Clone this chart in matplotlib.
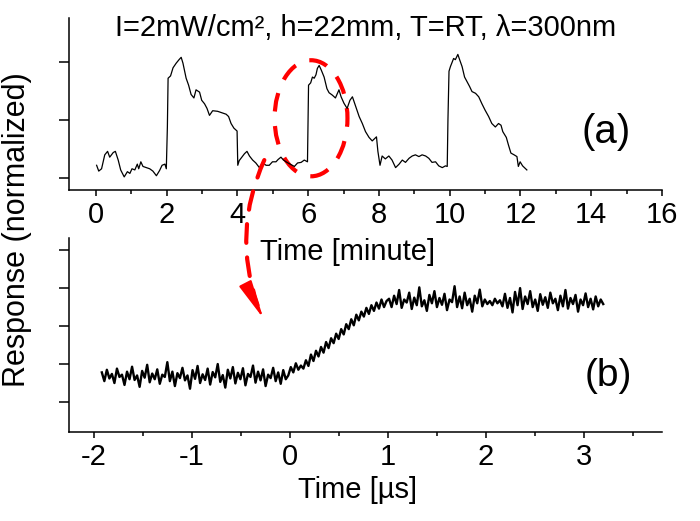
import numpy as np
import matplotlib
matplotlib.use('Agg')
from matplotlib import pyplot as plt
from matplotlib.patches import Ellipse, ConnectionPatch

plt.rcParams['font.family'] = ['Liberation Sans', 'DejaVu Sans']
plt.rcParams['axes.unicode_minus'] = False

# (a) slow response, time in minutes
t_a = [0.02, 0.08, 0.16, 0.25, 0.33, 0.39, 0.49, 0.55, 0.63, 0.70, 0.80, 0.89, 0.96, 1.02,
       1.10, 1.17, 1.21, 1.27, 1.33, 1.43, 1.52, 1.61, 1.71, 1.80, 1.87, 1.95, 1.99, 2.02,
       2.04, 2.11, 2.18, 2.27, 2.35, 2.41, 2.46, 2.55, 2.62, 2.69, 2.77, 2.83, 2.93, 2.99,
       3.07, 3.14, 3.21, 3.30, 3.44, 3.59, 3.68, 3.75, 3.82, 3.90, 3.99, 4.01, 4.05, 4.10,
       4.20, 4.27, 4.34, 4.43, 4.52, 4.62, 4.71, 4.81, 4.90, 4.99, 5.09, 5.15, 5.23, 5.30,
       5.40, 5.49, 5.61, 5.70, 5.80, 5.89, 5.98, 6.01, 6.07, 6.12, 6.17, 6.22, 6.26, 6.31,
       6.37, 6.45, 6.53, 6.59, 6.68, 6.77, 6.87, 6.93, 7.01, 7.10, 7.18, 7.25, 7.34, 7.44,
       7.53, 7.62, 7.72, 7.81, 7.93, 7.97, 8.03, 8.09, 8.18, 8.28, 8.37, 8.47, 8.57, 8.66,
       8.75, 8.85, 8.94, 9.03, 9.13, 9.22, 9.32, 9.41, 9.50, 9.60, 9.69, 9.79, 9.88, 9.93,
       9.95, 9.98, 10.02, 10.07, 10.11, 10.16, 10.23, 10.28, 10.35, 10.42, 10.49, 10.56,
       10.63, 10.73, 10.82, 10.91, 11.00, 11.10, 11.19, 11.29, 11.38, 11.45, 11.50, 11.60,
       11.66, 11.73, 11.82, 11.90, 11.94, 11.99, 12.06, 12.18]
resp_a = [0.11, 0.06, 0.08, 0.20, 0.23, 0.18, 0.22, 0.23, 0.155, 0.07, 0.01, 0.055, 0.04, 0.08,
          0.07, 0.12, 0.08, 0.14, 0.10, 0.09, 0.08, 0.06, 0.02, 0.065, 0.11, 0.12, 0.08, 0.44,
          0.86, 0.88, 0.95, 0.99, 1.02, 1.04, 0.99, 0.86, 0.80, 0.72, 0.69, 0.76, 0.74, 0.67,
          0.64, 0.60, 0.54, 0.58, 0.575, 0.56, 0.55, 0.53, 0.47, 0.43, 0.405, 0.11, 0.15, 0.17,
          0.21, 0.23, 0.19, 0.155, 0.13, 0.09, 0.13, 0.11, 0.11, 0.14, 0.14, 0.16, 0.18, 0.155,
          0.135, 0.12, 0.10, 0.13, 0.135, 0.155, 0.14, 0.80, 0.82, 0.87, 0.86, 0.89, 0.945, 0.97,
          0.93, 0.87, 0.77, 0.735, 0.715, 0.69, 0.76, 0.70, 0.645, 0.60, 0.67, 0.70, 0.62, 0.53,
          0.47, 0.40, 0.35, 0.32, 0.355, 0.23, 0.11, 0.19, 0.165, 0.19, 0.155, 0.09, 0.12, 0.155,
          0.135, 0.17, 0.19, 0.20, 0.185, 0.20, 0.19, 0.17, 0.135, 0.14, 0.105, 0.09, 0.105, 0.10,
          0.50, 0.92, 0.96, 1.00, 1.03, 1.02, 1.065, 1.02, 0.96, 0.87, 0.83, 0.79,
          0.745, 0.73, 0.70, 0.64, 0.585, 0.53, 0.47, 0.44, 0.47, 0.455, 0.40, 0.35,
          0.285, 0.215, 0.20, 0.185, 0.10, 0.14, 0.105, 0.07]

# (b) fast response, time in microseconds (evenly sampled)
t_b_start, t_b_end = -1.92, 3.2
resp_b = [
    # baseline
    0.78, 0.55, 0.85, 0.62, 0.74, 0.50, 0.88, 0.66, 0.72, 0.45, 0.80, 0.60, 0.93, 0.58, 0.70,
    0.40, 0.82, 0.64, 0.98, 0.52, 0.75, 0.60, 0.86, 0.48, 0.72, 0.66, 1.05, 0.55, 0.80, 0.42,
    0.76, 0.63, 0.90, 0.57, 0.70, 0.35, 0.84, 0.61, 0.95, 0.50, 0.73, 0.58, 0.88, 0.46, 0.79,
    0.65, 1.00, 0.53, 0.71, 0.38, 0.85, 0.62, 0.92, 0.49, 0.77, 0.60, 0.89, 0.44, 0.74, 0.66,
    0.96, 0.51, 0.80, 0.57, 0.86, 0.42, 0.72, 0.63, 0.90, 0.55, 0.78, 0.48, 0.84, 0.60, 0.70,
    # rise
    0.92, 0.78, 1.02, 0.85, 0.96, 0.88, 1.10, 0.95, 1.25, 1.08, 1.35, 1.20, 1.45, 1.30, 1.58,
    1.42, 1.68, 1.55, 1.80, 1.66, 1.92, 1.78, 2.05, 1.92, 2.18, 2.02, 2.30, 2.15, 2.38, 2.25,
    2.48, 2.32, 2.55, 2.40, 2.62, 2.46, 2.70, 2.50, 2.66,
    # plateau
    2.72, 2.50, 2.80, 2.58, 2.95, 2.48, 2.70, 2.62, 2.88, 2.45, 2.75, 2.55, 3.02, 2.52, 2.68,
    2.40, 2.82, 2.60, 2.92, 2.50, 2.74, 2.56, 2.85, 2.42, 2.70, 2.63, 3.05, 2.50, 2.78, 2.47,
    2.88, 2.55, 2.72, 2.38, 2.80, 2.60, 2.96, 2.52, 2.70, 2.58, 2.66, 2.55, 2.72, 2.60, 2.68,
    2.52, 2.85, 2.48, 2.74, 2.36, 2.90, 2.55, 3.00, 2.45, 2.78, 2.58, 2.92, 2.50, 2.70, 2.40,
    2.84, 2.56, 2.76, 2.48, 2.88, 2.60, 2.72, 2.42, 2.80, 2.52, 2.95, 2.46, 2.74, 2.58, 2.82,
    2.38, 2.70, 2.55, 2.86, 2.50, 2.72, 2.44, 2.78, 2.52, 2.70, 2.58]
t_b = np.linspace(t_b_start, t_b_end, len(resp_b))

xticks_a = [0, 2, 4, 6, 8, 10, 12, 14, 16]
xticks_b = [-2, -1, 0, 1, 2, 3]

title = 'I=2mW/cm², h=22mm, T=RT, λ=300nm'

fig = plt.figure(figsize=(7, 5.21), dpi=100)
ax1 = fig.add_axes([0.0986, 0.6353, 0.8471, 0.3302])
ax2 = fig.add_axes([0.0986, 0.1708, 0.8471, 0.3724])
ax2.patch.set_visible(False)

for ax in (ax1, ax2):
    ax.spines['top'].set_visible(False)
    ax.spines['right'].set_visible(False)
    ax.spines['left'].set_linewidth(1.1)
    ax.spines['bottom'].set_linewidth(1.1)
    ax.tick_params(axis='x', which='major', length=4, width=1.1, labelsize=21, pad=4)
    ax.tick_params(axis='x', which='minor', length=3, width=1.1)
    ax.tick_params(axis='y', which='major', length=7, width=1.1, labelleft=False)

# panel (a)
ax1.plot(t_a, resp_a, color='black', lw=0.9)
ax1.set_xlim(-0.76, 16)
ax1.set_ylim(-0.103, 1.379)
ax1.set_xticks(xticks_a)
ax1.set_xticks(np.arange(1, 16, 2), minor=True)
ax1.set_yticks([0, 0.5, 1])
ax1.set_xlabel('Time [minute]', fontsize=21)
ax1.xaxis.set_label_coords(0.47, -0.28)
ax1.text(0.50, 0.94, title, transform=ax1.transAxes, ha='center', va='center', fontsize=21)
ax1.text(0.905, 0.34, '(a)', transform=ax1.transAxes, ha='center', va='center', fontsize=29)

ell = Ellipse((6.08, 0.515), 2.06, 1.0, fill=False, edgecolor='red', lw=3,
              linestyle=(0, (4.5, 3.5)))
ax1.add_patch(ell)

# panel (b)
ax2.plot(t_b, resp_b, color='black', lw=1.7)
ax2.set_xlim(-2.255, 3.8)
ax2.set_ylim(-0.79, 4.32)
ax2.set_xticks(xticks_b)
ax2.set_xticks(np.arange(-1.5, 3.6, 1), minor=True)
ax2.set_yticks([0, 1, 2, 3, 4])
ax2.set_xlabel('Time [µs]', fontsize=21)
ax2.xaxis.set_label_coords(0.486, -0.225)
ax2.text(0.91, 0.29, '(b)', transform=ax2.transAxes, ha='center', va='center', fontsize=28)

# dashed red arrow from the circled pulse down to panel (b)
curve = ConnectionPatch(xyA=(4.76, 0.155), coordsA=ax1.transData,
                        xyB=(-0.33, 2.55), coordsB=ax2.transData,
                        arrowstyle='-', connectionstyle='arc3,rad=0.2',
                        color='red', lw=3, linestyle=(0, (4.5, 3.5)))
fig.add_artist(curve)
head = ConnectionPatch(xyA=(-0.38, 2.75), coordsA=ax2.transData,
                       xyB=(-0.27, 2.2), coordsB=ax2.transData,
                       arrowstyle='-|>,head_length=1.7,head_width=0.3',
                       mutation_scale=14, color='red', lw=1.5)
fig.add_artist(head)

fig.text(0.025, 0.56, 'Response (normalized)', rotation=90, ha='center', va='center',
         fontsize=22)

fig.savefig('out.png', dpi=100)
